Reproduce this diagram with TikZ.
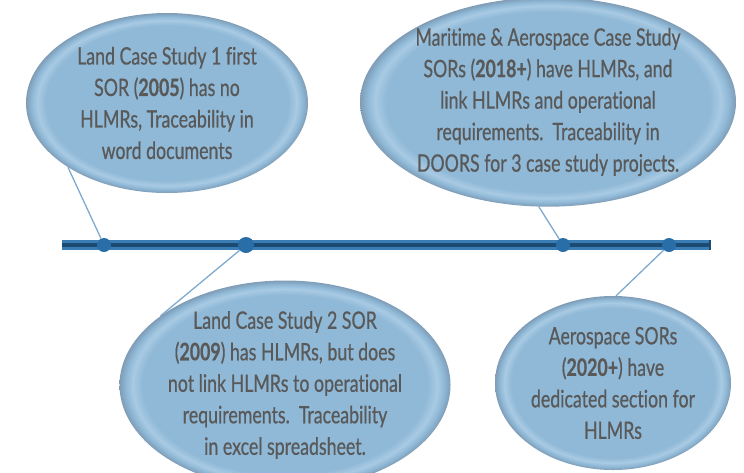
\documentclass[tikz,border=0pt]{standalone}
\usepackage{fontspec}
\setmainfont[FakeStretch=0.74, FakeBold=0.6, Ligatures={NoCommon}]{Lato}
\usepackage{tikz}
\usetikzlibrary{shapes.geometric, positioning}

\definecolor{bubblefill}{HTML}{8FB9D7}
\definecolor{bubblerim}{HTML}{A9CAE3}
\definecolor{bubbleedge}{HTML}{7F9CB6}
\definecolor{bartop}{HTML}{3A7DB5}
\definecolor{barmid}{HTML}{1B4A73}
\definecolor{dotblue}{HTML}{2A6EA8}
\definecolor{linkblue}{HTML}{7FAAD0}
\definecolor{textgrey}{HTML}{595959}

% flat centre, light ring, darker edge (edge of the shape sits at 25bp)
\pgfdeclareradialshading{bubbleshade}{\pgfpoint{0bp}{0bp}}{%
  color(0bp)=(bubblefill); color(21.5bp)=(bubblefill);
  color(23bp)=(bubblerim); color(24bp)=(bubblefill);
  color(25bp)=(bubbleedge); color(50bp)=(bubbleedge)}

\tikzset{
  bubble/.style={ellipse, shading=bubbleshade, inner sep=0pt, align=center,
    text=textgrey, font=\fontsize{24}{31.5}\selectfont},
  tdot/.style={circle, fill=dotblue, inner sep=0pt, minimum size=14pt},
  link/.style={draw=linkblue, line width=1.3pt}
}

\begin{document}
\begin{tikzpicture}[x=1pt, y=-1pt]
    \useasboundingbox (0,0) rectangle (744,472);

    % timeline bar
    \coordinate (tstart) at (62,245);
    \coordinate (tend) at (711,245);
    \draw[bartop, line width=10pt] (tstart) -- (tend);
    \draw[barmid, line width=4pt] (tstart) -- (tend);
    \draw[barmid, line width=10pt] ([xshift=-2pt]tend) -- (tend);

    % dots on the bar
    \node[tdot] (d1) at (104,245) {};
    \node[tdot, minimum size=16pt] (d2) at (246,245) {};
    \node[tdot] (d3) at (563,245) {};
    \node[tdot] (d4) at (669,245) {};

    % bubbles
    \node[bubble, minimum width=282pt, minimum height=180pt] (e1) at (167,103)
        {Land Case Study 1 first\\SOR (\textbf{2005}) has no\\HLMRs, Traceability in\\word documents};
    \node[bubble, minimum width=376pt, minimum height=196pt] (e2) at (548,102)
        {Maritime \& Aerospace Case Study\\SORs (\textbf{2018+}) have HLMRs, and\\link HLMRs and operational\\requirements.\ \ Traceability in\\DOORS for 3 case study projects.};
    \node[bubble, minimum width=320pt, minimum height=176pt] (e3) at (285,385)
        {Land Case Study 2 SOR\\(\textbf{2009}) has HLMRs, but does\\not link HLMRs to operational\\requirements.\ \ Traceability\\in excel spreadsheet.};
    \node[bubble, minimum width=236pt, minimum height=174pt] (e4) at (613,383)
        {Aerospace SORs\\(\textbf{2020+}) have\\dedicated section for\\HLMRs};

    % links from bubble to dot
    \draw[link] (e1.213) -- (d1);
    \draw[link] (e2.265) -- (d3);
    \draw[link] (e3.151) -- (d2);
    \draw[link] (e4.88) -- (d4);
\end{tikzpicture}
\end{document}
